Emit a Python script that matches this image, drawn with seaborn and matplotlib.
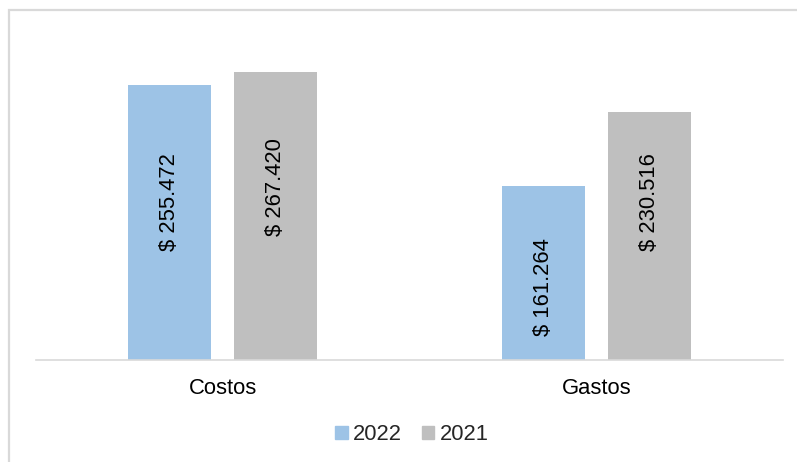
import matplotlib
matplotlib.use("Agg")
import matplotlib.pyplot as plt
import matplotlib.patches as mpatches
import seaborn as sns
import pandas as pd

categories = ["Costos", "Gastos"]
series = ["2022", "2021"]
values_2022 = [255472, 161264]
values_2021 = [267420, 230516]
labels_2022 = ["$ 255.472", "$ 161.264"]
labels_2021 = ["$ 267.420", "$ 230.516"]

colors = {"2022": "#9DC3E6", "2021": "#BFBFBF"}

df = pd.DataFrame({
    "Categoria": categories * 2,
    "Serie": ["2022"] * 2 + ["2021"] * 2,
    "Valor": values_2022 + values_2021,
})

sns.set_theme(style="white")
plt.rcParams["font.family"] = ["Liberation Sans", "DejaVu Sans"]

W, H = 797, 462
FS = 15.8
fig = plt.figure(figsize=(W / 100, H / 100), dpi=100)
ax = fig.add_axes([36 / W, 1 - 359.5 / H, 747 / W, (359.5 - 37) / H])

sns.barplot(data=df, x="Categoria", y="Valor", hue="Serie", hue_order=series,
            palette=colors, width=0.569, gap=0.219, linewidth=0,
            saturation=1, ax=ax, legend=False)

ax.set_xlim(-0.5, 1.5)
ax.set_ylim(0, 300000)
ax.set_xlabel("")
ax.set_ylabel("")
ax.set_yticks([])
for s in ["top", "left", "right"]:
    ax.spines[s].set_visible(False)
ax.spines["bottom"].set_color("#D9D9D9")
ax.spines["bottom"].set_linewidth(1.2)
ax.tick_params(axis="x", length=0, pad=13, labelsize=FS, labelcolor="black")

# data labels (label centers placed inside bars, as in the reference)
label_centers = {"2022": [146100, 67000], "2021": [160100, 146100]}
label_texts = {"2022": labels_2022, "2021": labels_2021}
for cont, ser in zip(ax.containers, series):
    for bar, txt, yc in zip(cont, label_texts[ser], label_centers[ser]):
        xc = bar.get_x() + bar.get_width() / 2
        ax.text(xc, yc, txt, rotation=90, ha="center", va="center",
                fontsize=FS, color="black")

handles = [mpatches.Patch(color=colors[s], label=s) for s in series]
fig.legend(handles=handles, loc="center", bbox_to_anchor=(412 / W, 1 - 435 / H),
           ncol=2, frameon=False, fontsize=FS, handlelength=0.56,
           handleheight=0.56, handletextpad=0.25, columnspacing=0.9)

frame = mpatches.Rectangle((8.5 / W, -0.1), 1.2, 1.1 - 10.5 / H,
                           transform=fig.transFigure, fill=False,
                           edgecolor="#D9D9D9", linewidth=1.6, clip_on=False)
fig.add_artist(frame)

fig.savefig("out.png", dpi=100)
